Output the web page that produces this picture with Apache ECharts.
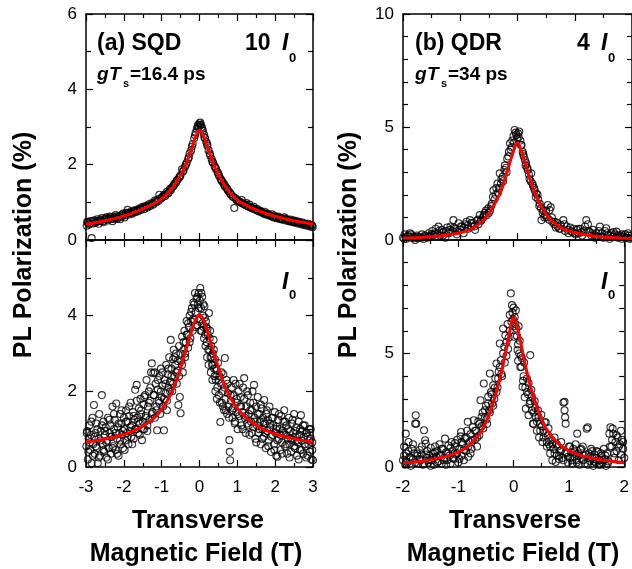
<!DOCTYPE html>
<html>
<head>
<meta charset="utf-8">
<script src="https://cdn.jsdelivr.net/npm/echarts@6/dist/echarts.min.js"></script>
<style>
html,body{margin:0;padding:0;background:#fff;}
#chart{width:632px;height:569px;}
</style>
</head>
<body>
<div id="chart"></div>
<script>
// (a) SQD, 10 I0  -- field (T), polarization (%)
var sqdHighScatter = [
[-2.98,0.38],[-2.95,0.46],[-2.92,0.41],[-2.88,0.5],[-2.85,0.05],[-2.82,0.44],[-2.78,0.52],[-2.74,0.47],[-2.7,0.55],[-2.66,0.43],
[-2.62,0.5],[-2.58,0.58],[-2.54,0.47],[-2.5,0.55],[-2.46,0.6],[-2.42,0.52],[-2.38,0.62],[-2.34,0.56],[-2.3,0.5],[-2.26,0.6],
[-2.22,0.66],[-2.18,0.56],[-2.14,0.62],[-2.1,0.55],[-2.06,0.67],[-2.02,0.7],[-1.98,0.6],[-1.94,0.72],[-1.9,0.8],[-1.86,0.68],
[-1.82,0.75],[-1.78,0.7],[-1.74,0.78],[-1.7,0.74],[-1.66,0.8],[-1.62,0.76],[-1.58,0.84],[-1.54,0.8],[-1.5,0.88],[-1.46,0.82],
[-1.42,0.9],[-1.38,0.86],[-1.34,0.95],[-1.3,0.9],[-1.26,0.98],[-1.22,0.94],[-1.18,1.05],[-1.14,1.0],[-1.1,1.08],[-1.06,1.2],
[-1.02,1.1],[-0.98,1.15],[-0.94,1.2],[-0.9,1.18],[-0.86,1.28],[-0.82,1.25],[-0.78,1.35],[-0.74,1.38],[-0.7,1.42],[-0.66,1.5],
[-0.62,1.52],[-0.58,1.6],[-0.54,1.65],[-0.5,1.72],[-0.46,1.88],[-0.42,1.85],[-0.38,1.95],[-0.34,2.05],[-0.3,2.15],[-0.26,2.3],
[-0.22,2.38],[-0.18,2.55],[-0.14,2.7],[-0.1,2.85],[-0.07,2.95],[-0.04,3.05],[-0.02,3.0],[0.0,3.1],[0.02,3.12],[0.04,3.05],
[0.06,3.0],[0.09,2.9],[0.12,2.8],[0.15,2.7],[0.18,2.6],[0.21,2.5],[0.24,2.38],[0.28,2.25],[0.32,2.15],[0.36,2.05],
[0.4,1.96],[0.44,1.88],[0.48,1.8],[0.52,1.7],[0.56,1.62],[0.6,1.55],[0.64,1.5],[0.68,1.42],[0.72,1.38],[0.76,1.3],
[0.8,1.26],[0.84,1.2],[0.88,1.15],[0.92,0.85],[0.96,1.1],[1.0,1.05],[1.04,1.02],[1.08,1.0],[1.12,1.06],[1.16,0.96],
[1.2,0.94],[1.24,0.98],[1.28,0.9],[1.32,0.94],[1.36,0.86],[1.4,0.85],[1.44,0.88],[1.48,0.8],[1.52,0.82],[1.56,0.76],
[1.6,0.78],[1.64,0.74],[1.68,0.72],[1.72,0.75],[1.76,0.68],[1.8,0.7],[1.84,0.66],[1.88,0.64],[1.92,0.68],[1.96,0.6],
[2.0,0.63],[2.04,0.58],[2.08,0.62],[2.12,0.56],[2.16,0.58],[2.2,0.54],[2.24,0.6],[2.28,0.52],[2.32,0.55],[2.36,0.5],
[2.4,0.54],[2.44,0.48],[2.48,0.52],[2.52,0.46],[2.56,0.5],[2.6,0.44],[2.64,0.48],[2.68,0.42],[2.72,0.46],[2.76,0.4],
[2.8,0.44],[2.84,0.38],[2.88,0.43],[2.92,0.36],[2.96,0.4],[2.99,0.34]
];
var sqdHighScatterRun2 = [
[-2.97,0.48],[-2.9,0.44],[-2.83,0.5],[-2.76,0.45],[-2.69,0.5],[-2.62,0.54],[-2.55,0.5],[-2.48,0.57],[-2.41,0.56],[-2.34,0.6],
[-2.27,0.56],[-2.2,0.62],[-2.13,0.6],[-2.04,0.64],[-1.96,0.66],[-1.88,0.72],[-1.8,0.72],[-1.72,0.77],[-1.64,0.78],[-1.56,0.82],
[-1.48,0.86],[-1.4,0.88],[-1.32,0.92],[-1.24,0.96],[-1.16,1.02],[-1.08,1.04],[-1.0,1.12],[-0.92,1.16],[-0.84,1.24],[-0.76,1.32],
[-0.68,1.45],[-0.6,1.58],[-0.52,1.68],[-0.44,1.82],[-0.36,2.0],[-0.28,2.2],[-0.2,2.48],[-0.12,2.78],[-0.05,3.0],[0.01,3.05],
[0.07,2.95],[0.13,2.72],[0.2,2.55],[0.27,2.3],[0.34,2.08],[0.42,1.92],[0.5,1.75],[0.58,1.58],[0.66,1.45],[0.74,1.34],
[0.82,1.22],[0.9,1.14],[0.98,1.06],[1.06,1.02],[1.14,0.97],[1.22,0.92],[1.3,0.88],[1.38,0.84],[1.46,0.82],[1.54,0.78],
[1.62,0.75],[1.7,0.7],[1.78,0.68],[1.86,0.65],[1.94,0.62],[2.02,0.6],[2.1,0.58],[2.18,0.55],[2.26,0.56],[2.34,0.52],
[2.42,0.5],[2.5,0.48],[2.58,0.47],[2.66,0.45],[2.74,0.43],[2.82,0.41],[2.9,0.4],[2.98,0.38]
];
var sqdHighFit = [
[-3.0,0.42],[-2.8,0.45],[-2.6,0.49],[-2.4,0.53],[-2.2,0.58],[-2.0,0.64],[-1.8,0.7],[-1.6,0.78],[-1.4,0.87],[-1.2,0.97],
[-1.0,1.09],[-0.8,1.28],[-0.6,1.55],[-0.4,1.92],[-0.2,2.45],[-0.1,2.75],[0,2.92],[0.1,2.78],[0.2,2.5],[0.4,1.95],
[0.6,1.55],[0.8,1.26],[1.0,1.06],[1.2,0.94],[1.4,0.84],[1.6,0.76],[1.8,0.69],[2.0,0.63],[2.2,0.58],[2.4,0.53],
[2.6,0.49],[2.8,0.46],[3.0,0.43]
];

// (a) SQD, I0
var sqdLowScatter = [
[-2.99,0.55],[-2.97,0.95],[-2.95,0.2],[-2.93,0.75],[-2.91,1.1],[-2.89,0.45],[-2.87,0.85],[-2.85,0.1],[-2.83,1.3],[-2.81,0.6],
[-2.79,1.64],[-2.77,0.35],[-2.75,0.9],[-2.73,1.15],[-2.71,0.5],[-2.69,0.1],[-2.67,0.75],[-2.65,1.4],[-2.63,0.3],[-2.61,0.95],
[-2.58,1.9],[-2.56,0.6],[-2.54,1.2],[-2.52,0.4],[-2.5,0.85],[-2.48,1.05],[-2.46,0.25],[-2.44,0.7],[-2.42,1.3],[-2.4,0.5],
[-2.38,0.9],[-2.36,1.1],[-2.34,0.35],[-2.32,0.8],[-2.3,1.6],[-2.28,0.55],[-2.26,1.0],[-2.24,1.25],[-2.22,0.45],[-2.2,1.68],
[-2.18,0.75],[-2.16,1.05],[-2.14,0.3],[-2.12,0.9],[-2.1,1.4],[-2.08,0.6],[-2.06,1.15],[-2.04,0.85],[-2.02,0.5],[-2.0,1.3],
[-1.98,1.0],[-1.96,0.7],[-1.94,1.5],[-1.92,0.9],[-1.9,1.2],[-1.88,0.6],[-1.86,1.35],[-1.84,0.95],[-1.82,1.7],[-1.8,0.8],
[-1.78,1.1],[-1.76,1.45],[-1.74,0.75],[-1.72,1.25],[-1.7,2.04],[-1.68,1.0],[-1.66,2.17],[-1.64,1.3],[-1.62,0.9],[-1.6,1.55],
[-1.58,1.15],[-1.56,1.8],[-1.54,1.4],[-1.52,0.71],[-1.5,1.2],[-1.48,1.65],[-1.46,1.0],[-1.44,1.9],[-1.42,1.35],[-1.4,2.3],
[-1.38,1.1],[-1.36,1.6],[-1.34,2.0],[-1.32,1.25],[-1.3,1.75],[-1.28,2.5],[-1.26,2.74],[-1.24,1.45],[-1.22,2.48],[-1.2,1.9],
[-1.18,1.3],[-1.16,2.2],[-1.14,1.6],[-1.12,0.97],[-1.1,2.05],[-1.08,1.75],[-1.06,2.4],[-1.04,1.4],[-1.02,2.6],[-1.0,1.85],
[-0.98,2.15],[-0.96,1.6],[-0.94,0.97],[-0.92,2.3],[-0.9,1.95],[-0.88,2.7],[-0.86,1.75],[-0.84,2.45],[-0.82,2.1],[-0.8,2.9],
[-0.78,2.25],[-0.76,3.36],[-0.74,2.6],[-0.72,2.0],[-0.7,2.85],[-0.68,3.1],[-0.66,2.4],[-0.64,2.7],[-0.62,3.0],[-0.6,2.2],
[-0.58,2.55],[-0.56,1.64],[-0.54,3.2],[-0.52,1.85],[-0.5,1.42],[-0.48,2.8],[-0.46,3.45],[-0.44,2.5],[-0.42,3.1],[-0.4,3.6],
[-0.38,2.9],[-0.36,3.3],[-0.34,3.86],[-0.32,3.5],[-0.3,3.15],[-0.28,3.7],[-0.26,4.0],[-0.24,3.4],[-0.22,3.85],[-0.2,4.2],
[-0.18,3.6],[-0.16,4.35],[-0.14,3.9],[-0.12,4.6],[-0.1,4.1],[-0.08,4.45],[-0.06,3.75],[-0.04,4.3],[-0.02,4.6],[0.0,3.9],
[0.02,4.73],[0.04,4.2],[0.06,3.6],[0.07,4.5],[0.09,4.0],[0.11,3.7],[0.13,4.25],[0.15,3.5],[0.17,3.85],[0.19,3.3],
[0.21,3.65],[0.23,3.1],[0.25,4.07],[0.27,3.4],[0.29,2.9],[0.31,3.2],[0.33,2.7],[0.35,3.0],[0.37,3.36],[0.39,2.6],
[0.41,2.85],[0.43,2.3],[0.45,2.55],[0.47,2.1],[0.49,2.75],[0.51,1.9],[0.53,2.4],[0.55,1.19],[0.57,2.2],[0.59,1.7],
[0.61,2.0],[0.63,2.45],[0.65,1.5],[0.67,2.88],[0.69,1.8],[0.71,2.3],[0.73,1.4],[0.75,1.95],[0.77,1.6],[0.79,0.71],
[0.8,0.4],[0.81,0.18],[0.83,1.75],[0.85,2.1],[0.87,1.3],[0.89,1.55],[0.91,1.9],[0.93,1.15],[0.95,2.2],[0.97,1.45],
[0.99,1.7],[1.01,1.0],[1.03,2.0],[1.05,1.35],[1.07,1.6],[1.09,1.85],[1.11,1.1],[1.13,1.45],[1.15,2.1],[1.18,2.35],
[1.2,1.3],[1.22,0.9],[1.24,1.6],[1.26,1.15],[1.28,1.9],[1.3,1.4],[1.32,0.85],[1.34,1.7],[1.36,1.2],[1.38,1.5],
[1.4,2.0],[1.42,1.05],[1.44,2.17],[1.46,1.3],[1.48,0.75],[1.5,1.6],[1.52,1.1],[1.54,1.85],[1.56,0.9],[1.58,1.4],
[1.6,1.2],[1.62,0.6],[1.64,1.55],[1.66,1.0],[1.68,1.3],[1.7,0.8],[1.71,1.77],[1.73,1.15],[1.75,0.5],[1.77,1.4],
[1.79,0.95],[1.81,1.25],[1.83,0.7],[1.85,1.6],[1.87,1.05],[1.89,0.4],[1.91,1.3],[1.93,0.85],[1.95,1.1],[1.97,0.6],
[1.99,1.45],[2.01,0.9],[2.03,0.3],[2.05,1.06],[2.06,0.27],[2.08,1.25],[2.1,0.75],[2.12,1.0],[2.14,0.45],[2.16,1.35],
[2.18,0.65],[2.2,0.95],[2.22,1.2],[2.24,1.5],[2.26,0.55],[2.28,0.85],[2.3,1.1],[2.32,0.35],[2.34,0.75],[2.36,1.3],
[2.38,0.6],[2.4,0.95],[2.42,0.4],[2.44,1.15],[2.46,0.7],[2.48,0.9],[2.5,1.4],[2.52,0.5],[2.54,0.8],[2.56,1.05],
[2.58,0.3],[2.6,0.65],[2.62,1.2],[2.64,0.85],[2.66,0.45],[2.68,1.37],[2.7,0.7],[2.72,0.95],[2.74,0.35],[2.76,0.8],
[2.78,1.1],[2.8,0.55],[2.82,0.25],[2.84,0.9],[2.86,0.8],[2.88,0.6],[2.9,1.0],[2.92,0.4],[2.94,0.75],[2.96,0.2],
[2.98,0.65],[3.0,0.18]
];
var sqdLowScatterRun2 = [
[-2.98,0.9],[-2.94,0.4],[-2.9,0.65],[-2.86,1.2],[-2.82,0.3],[-2.78,0.8],[-2.74,0.55],[-2.7,1.0],[-2.66,0.25],[-2.62,0.7],
[-2.58,1.1],[-2.54,0.45],[-2.5,0.95],[-2.46,0.65],[-2.42,0.2],[-2.38,1.25],[-2.34,0.8],[-2.3,0.5],[-2.26,1.4],[-2.22,0.9],
[-2.18,0.35],[-2.14,1.15],[-2.1,0.7],[-2.06,1.5],[-2.02,0.95],[-1.98,0.45],[-1.94,1.2],[-1.9,0.8],[-1.86,1.6],[-1.82,1.05],
[-1.78,0.6],[-1.74,1.35],[-1.7,1.0],[-1.66,1.75],[-1.62,1.2],[-1.58,0.85],[-1.54,1.5],[-1.5,1.0],[-1.46,1.85],[-1.42,1.3],
[-1.38,0.95],[-1.34,1.7],[-1.3,2.1],[-1.26,1.4],[-1.22,1.9],[-1.18,2.5],[-1.14,1.5],[-1.1,2.3],[-1.06,1.7],[-1.02,2.0],
[-0.98,2.5],[-0.94,1.8],[-0.9,2.2],[-0.86,1.5],[-0.82,2.6],[-0.78,2.0],[-0.74,2.4],[-0.7,2.2],[-0.66,2.9],[-0.62,2.5],
[-0.58,2.8],[-0.54,2.4],[-0.5,3.0],[-0.46,2.7],[-0.42,3.3],[-0.38,3.0],[-0.34,3.5],[-0.3,3.8],[-0.26,3.3],[-0.22,4.1],
[-0.18,3.9],[-0.14,4.3],[-0.1,3.7],[-0.06,4.5],[-0.02,4.2],[0.01,4.4],[0.03,3.6],[0.05,4.6],[0.08,3.8],[0.1,4.3],
[0.12,3.4],[0.14,3.95],[0.16,3.2],[0.18,3.7],[0.2,2.9],[0.22,3.5],[0.24,2.7],[0.26,3.1],[0.28,3.6],[0.3,2.5],
[0.32,2.9],[0.34,2.3],[0.36,2.7],[0.38,3.1],[0.4,2.4],[0.42,2.0],[0.44,2.6],[0.46,1.8],[0.5,2.3],[0.54,1.7],
[0.58,2.5],[0.62,1.6],[0.66,2.1],[0.7,1.5],[0.74,2.2],[0.78,1.3],[0.82,1.9],[0.86,1.5],[0.9,2.3],[0.94,1.2],
[0.98,1.8],[1.02,1.4],[1.06,2.2],[1.1,1.6],[1.14,1.0],[1.18,1.8],[1.22,1.35],[1.26,2.0],[1.3,1.1],[1.34,1.5],
[1.38,0.9],[1.42,1.7],[1.46,1.2],[1.5,0.65],[1.54,1.4],[1.58,1.0],[1.62,1.65],[1.66,0.75],[1.7,1.2],[1.74,0.9],
[1.78,1.5],[1.82,0.55],[1.86,1.15],[1.9,0.8],[1.94,1.3],[1.98,0.45],[2.02,1.0],[2.06,0.7],[2.1,1.4],[2.14,0.85],
[2.18,0.35],[2.22,0.9],[2.26,1.2],[2.3,0.6],[2.34,1.0],[2.38,0.25],[2.42,0.75],[2.46,1.25],[2.5,0.55],[2.54,0.95],
[2.58,0.7],[2.62,0.2],[2.66,1.0],[2.7,0.45],[2.74,1.1],[2.78,0.6],[2.82,0.9],[2.86,0.3],[2.9,0.7],[2.94,1.0],
[2.98,0.45]
];
var sqdLowFit = [
[-3.0,0.66],[-2.8,0.69],[-2.6,0.72],[-2.4,0.76],[-2.2,0.8],[-2.0,0.86],[-1.8,0.93],[-1.6,1.02],[-1.4,1.14],[-1.2,1.3],
[-1.0,1.52],[-0.8,1.84],[-0.6,2.3],[-0.4,2.95],[-0.2,3.62],[-0.1,3.9],[0,4.02],[0.1,3.9],[0.2,3.6],[0.4,2.95],
[0.6,2.32],[0.8,1.86],[1.0,1.55],[1.2,1.33],[1.4,1.17],[1.6,1.04],[1.8,0.95],[2.0,0.88],[2.2,0.82],[2.4,0.77],
[2.6,0.73],[2.8,0.69],[3.0,0.66]
];

// (b) QDR, 4 I0
var qdrHighScatter = [
[-2.0,0.1],[-1.97,0.25],[-1.94,0.05],[-1.91,0.2],[-1.88,0.3],[-1.85,0.1],[-1.82,0.15],[-1.79,0.0],[-1.76,0.2],[-1.73,0.08],
[-1.7,0.12],[-1.67,0.25],[-1.64,0.05],[-1.61,0.15],[-1.58,0.1],[-1.55,0.3],[-1.52,0.18],[-1.49,0.4],[-1.46,0.22],[-1.43,0.5],
[-1.4,0.3],[-1.38,0.59],[-1.35,0.2],[-1.32,0.45],[-1.29,0.35],[-1.26,0.1],[-1.23,0.55],[-1.2,0.3],[-1.17,0.6],[-1.14,0.4],
[-1.12,0.88],[-1.09,0.5],[-1.06,0.25],[-1.03,0.74],[-1.0,0.45],[-0.97,0.6],[-0.94,0.3],[-0.91,0.7],[-0.89,0.81],[-0.86,0.5],
[-0.83,0.88],[-0.8,0.6],[-0.77,0.75],[-0.74,0.45],[-0.71,0.85],[-0.68,0.7],[-0.66,1.1],[-0.63,0.9],[-0.6,1.0],[-0.57,1.2],
[-0.54,1.1],[-0.51,1.4],[-0.48,1.3],[-0.45,1.6],[-0.42,2.2],[-0.4,1.8],[-0.37,2.3],[-0.34,2.1],[-0.31,2.95],[-0.29,2.5],
[-0.26,2.8],[-0.23,3.1],[-0.2,3.2],[-0.18,3.6],[-0.15,3.9],[-0.13,4.28],[-0.1,4.1],[-0.07,4.6],[-0.05,4.87],[-0.03,4.75],
[-0.01,4.5],[0.01,4.72],[0.03,4.8],[0.05,4.4],[0.07,4.2],[0.09,3.9],[0.11,3.7],[0.13,3.54],[0.15,3.4],[0.18,3.1],
[0.21,2.7],[0.24,2.95],[0.27,2.4],[0.3,2.2],[0.33,2.06],[0.36,1.8],[0.39,1.6],[0.42,0.88],[0.45,1.3],[0.48,1.1],
[0.51,1.0],[0.53,1.55],[0.56,1.33],[0.58,1.45],[0.61,0.8],[0.64,0.7],[0.67,0.55],[0.7,0.75],[0.73,0.5],[0.76,0.65],
[0.8,0.88],[0.83,0.4],[0.86,0.6],[0.89,0.3],[0.92,0.55],[0.95,0.35],[0.98,0.5],[1.01,0.25],[1.04,0.45],[1.07,0.3],
[1.1,0.5],[1.13,0.2],[1.16,0.4],[1.2,0.88],[1.23,0.7],[1.26,0.35],[1.29,0.2],[1.32,0.45],[1.35,0.1],[1.38,0.3],
[1.41,0.15],[1.44,0.59],[1.47,0.3],[1.5,0.1],[1.53,0.4],[1.55,0.52],[1.58,0.2],[1.61,0.05],[1.64,0.3],[1.67,0.15],
[1.7,0.25],[1.73,0.37],[1.76,0.1],[1.79,0.2],[1.82,0.05],[1.85,0.15],[1.88,0.25],[1.91,0.1],[1.93,0.3],[1.96,0.05],
[1.99,0.2]
];
var qdrHighScatterRun2 = [
[-1.98,0.05],[-1.92,0.15],[-1.86,0.25],[-1.8,0.08],[-1.74,0.15],[-1.68,0.1],[-1.62,0.2],[-1.56,0.15],[-1.5,0.25],[-1.44,0.3],
[-1.37,0.4],[-1.3,0.2],[-1.24,0.4],[-1.18,0.45],[-1.11,0.55],[-1.05,0.4],[-0.99,0.6],[-0.93,0.55],[-0.87,0.65],[-0.81,0.75],
[-0.75,0.6],[-0.69,0.9],[-0.64,0.85],[-0.59,1.1],[-0.55,1.3],[-0.5,1.2],[-0.46,1.5],[-0.43,1.9],[-0.38,2.0],[-0.35,2.5],
[-0.32,2.3],[-0.28,2.7],[-0.25,2.6],[-0.22,3.3],[-0.19,3.0],[-0.16,3.7],[-0.12,4.0],[-0.09,4.4],[-0.06,4.3],[-0.02,4.65],
[0.02,4.55],[0.06,4.2],[0.1,3.8],[0.14,3.3],[0.17,3.2],[0.2,2.9],[0.23,2.6],[0.26,2.5],[0.29,2.3],[0.32,1.9],
[0.35,2.0],[0.38,1.5],[0.41,1.4],[0.44,1.2],[0.47,1.0],[0.5,1.3],[0.55,0.9],[0.6,1.0],[0.65,0.8],[0.7,0.6],
[0.75,0.5],[0.82,0.7],[0.88,0.45],[0.94,0.4],[1.0,0.3],[1.06,0.5],[1.12,0.35],[1.18,0.6],[1.24,0.4],[1.3,0.3],
[1.36,0.2],[1.42,0.4],[1.48,0.15],[1.56,0.3],[1.62,0.2],[1.68,0.35],[1.75,0.2],[1.82,0.25],[1.88,0.1],[1.94,0.2],
[1.98,0.1]
];
var qdrHighFit = [
[-2.0,0.08],[-1.8,0.1],[-1.6,0.13],[-1.4,0.17],[-1.2,0.23],[-1.0,0.32],[-0.8,0.5],[-0.6,0.86],[-0.5,1.18],[-0.4,1.6],
[-0.3,2.1],[-0.2,2.85],[-0.1,3.7],[0,4.3],[0.1,3.7],[0.2,2.85],[0.3,2.1],[0.4,1.55],[0.5,1.15],[0.6,0.84],
[0.8,0.49],[1.0,0.33],[1.2,0.22],[1.4,0.16],[1.6,0.12],[1.8,0.09],[2.0,0.07]
];

// (b) QDR, I0
var qdrLowScatter = [
[-2.0,0.3],[-1.98,0.9],[-1.96,0.1],[-1.95,1.47],[-1.94,0.6],[-1.92,0.2],[-1.9,1.1],[-1.88,0.45],[-1.86,0.05],[-1.84,0.8],
[-1.82,0.35],[-1.8,0.6],[-1.78,1.91],[-1.77,2.28],[-1.76,1.91],[-1.74,0.5],[-1.72,0.15],[-1.7,0.75],[-1.68,0.3],[-1.66,0.55],
[-1.64,0.1],[-1.62,1.62],[-1.6,1.18],[-1.59,1.03],[-1.58,0.4],[-1.56,0.7],[-1.54,0.2],[-1.52,0.5],[-1.5,0.85],[-1.48,0.3],
[-1.46,0.6],[-1.44,0.1],[-1.42,0.9],[-1.4,0.45],[-1.38,0.7],[-1.36,0.25],[-1.34,1.0],[-1.32,0.55],[-1.3,0.15],[-1.28,0.8],
[-1.26,0.4],[-1.24,1.25],[-1.22,0.65],[-1.2,0.3],[-1.18,0.95],[-1.16,0.5],[-1.14,0.15],[-1.12,1.1],[-1.1,0.7],[-1.08,0.35],
[-1.06,0.9],[-1.04,0.55],[-1.02,1.2],[-1.0,0.2],[-0.98,0.8],[-0.96,1.35],[-0.95,1.54],[-0.94,0.5],[-0.92,1.0],[-0.9,0.3],
[-0.88,1.25],[-0.86,0.7],[-0.84,1.6],[-0.83,1.99],[-0.82,0.45],[-0.8,1.1],[-0.78,1.45],[-0.76,0.8],[-0.74,1.75],[-0.72,2.06],
[-0.7,1.2],[-0.68,1.6],[-0.66,0.9],[-0.64,2.0],[-0.62,1.4],[-0.6,2.94],[-0.58,1.8],[-0.56,2.4],[-0.54,3.68],[-0.52,2.2],
[-0.5,2.7],[-0.48,1.9],[-0.46,3.1],[-0.44,2.5],[-0.43,4.12],[-0.41,3.3],[-0.39,2.8],[-0.37,3.6],[-0.35,3.0],[-0.33,3.9],
[-0.31,4.56],[-0.29,3.5],[-0.27,4.2],[-0.25,5.44],[-0.23,4.7],[-0.21,4.0],[-0.19,6.1],[-0.17,5.3],[-0.15,5.8],[-0.13,4.9],
[-0.11,6.3],[-0.09,5.7],[-0.07,6.7],[-0.05,7.65],[-0.03,7.13],[-0.01,6.5],[0.0,7.02],[0.01,5.74],[0.03,6.3],[0.04,6.9],
[0.06,5.77],[0.07,5.15],[0.08,4.68],[0.09,6.2],[0.11,5.56],[0.13,4.9],[0.14,4.41],[0.16,3.53],[0.17,3.8],[0.19,4.6],
[0.2,3.07],[0.22,2.57],[0.24,3.9],[0.26,3.2],[0.27,2.28],[0.29,2.78],[0.3,4.93],[0.32,3.4],[0.33,2.5],[0.35,1.9],
[0.36,1.91],[0.38,2.9],[0.4,2.2],[0.42,1.6],[0.44,2.5],[0.46,1.3],[0.48,1.9],[0.5,2.3],[0.52,1.1],[0.54,1.6],
[0.56,1.97],[0.58,1.97],[0.6,0.9],[0.62,1.4],[0.64,1.0],[0.66,0.6],[0.68,1.2],[0.7,0.29],[0.72,0.8],[0.74,1.3],
[0.76,0.22],[0.78,0.5],[0.8,0.9],[0.82,0.35],[0.84,0.7],[0.86,1.1],[0.88,0.4],[0.9,2.84],[0.92,2.5],[0.92,2.87],
[0.93,2.19],[0.94,1.91],[0.96,0.6],[0.98,0.2],[1.0,0.9],[1.02,0.4],[1.04,0.65],[1.06,0.15],[1.08,0.8],[1.1,0.45],
[1.12,1.0],[1.14,0.3],[1.15,1.47],[1.17,0.6],[1.19,0.1],[1.21,0.75],[1.23,0.35],[1.25,0.9],[1.27,0.5],[1.29,0.15],
[1.32,1.69],[1.34,1.75],[1.36,0.6],[1.38,0.25],[1.4,0.8],[1.42,0.4],[1.44,0.05],[1.46,0.55],[1.48,0.2],[1.5,0.7],
[1.53,0.66],[1.55,0.3],[1.57,0.1],[1.59,0.5],[1.61,0.2],[1.63,0.8],[1.65,0.35],[1.67,0.05],[1.69,0.6],[1.71,0.25],
[1.73,1.47],[1.75,1.75],[1.77,0.9],[1.79,1.69],[1.8,1.46],[1.82,0.4],[1.84,1.1],[1.86,0.7],[1.88,1.3],[1.9,0.3],
[1.92,1.0],[1.94,0.55],[1.96,1.2],[1.98,0.8],[2.0,0.4]
];
var qdrLowScatterRun2 = [
[-1.98,0.5],[-1.94,0.25],[-1.9,0.7],[-1.86,0.4],[-1.82,1.0],[-1.78,0.2],[-1.74,0.6],[-1.7,0.35],[-1.66,0.9],[-1.62,0.15],
[-1.58,0.55],[-1.54,0.3],[-1.5,0.05],[-1.46,0.4],[-1.42,0.65],[-1.38,0.2],[-1.34,0.5],[-1.3,0.8],[-1.26,0.3],[-1.22,0.1],
[-1.18,0.6],[-1.14,0.85],[-1.1,0.4],[-1.06,1.05],[-1.02,0.6],[-0.98,0.35],[-0.94,1.1],[-0.9,0.75],[-0.86,1.3],[-0.82,0.9],
[-0.78,0.6],[-0.74,1.2],[-0.7,1.6],[-0.66,1.3],[-0.62,1.9],[-0.58,2.2],[-0.55,1.7],[-0.52,2.5],[-0.49,2.1],[-0.46,2.8],
[-0.43,2.4],[-0.4,3.2],[-0.37,2.7],[-0.34,3.5],[-0.31,3.3],[-0.28,3.9],[-0.25,4.4],[-0.22,4.1],[-0.19,5.0],[-0.16,4.6],
[-0.13,5.5],[-0.1,5.2],[-0.07,6.0],[-0.04,6.4],[-0.02,6.8],[0.0,6.2],[0.02,6.6],[0.05,6.1],[0.08,5.4],[0.1,5.0],
[0.12,4.4],[0.15,4.8],[0.18,4.0],[0.21,3.5],[0.24,3.3],[0.27,3.7],[0.3,2.9],[0.33,3.1],[0.36,2.4],[0.39,2.6],
[0.42,2.0],[0.45,2.2],[0.48,1.6],[0.51,1.8],[0.54,1.3],[0.57,1.5],[0.6,1.1],[0.63,1.7],[0.66,0.9],[0.7,1.0],
[0.74,0.6],[0.78,1.0],[0.82,0.5],[0.86,0.75],[0.9,0.3],[0.94,0.65],[0.98,0.45],[1.02,0.9],[1.06,0.3],[1.1,0.65],
[1.14,0.2],[1.18,0.5],[1.22,0.8],[1.26,0.3],[1.3,0.55],[1.34,0.1],[1.38,0.45],[1.42,0.7],[1.46,0.25],[1.5,0.4],
[1.54,0.1],[1.58,0.6],[1.62,0.3],[1.66,0.5],[1.7,0.15],[1.74,0.9],[1.78,1.2],[1.82,0.6],[1.86,1.4],[1.9,0.9],
[1.94,1.6],[1.98,1.1]
];
var qdrLowFit = [
[-2.0,0.18],[-1.8,0.22],[-1.6,0.28],[-1.4,0.37],[-1.2,0.48],[-1.0,0.65],[-0.8,0.95],[-0.6,1.5],[-0.5,1.98],[-0.4,2.6],
[-0.3,3.4],[-0.2,4.4],[-0.1,5.6],[0,6.6],[0.1,5.8],[0.2,4.6],[0.3,3.6],[0.4,2.8],[0.5,2.15],[0.6,1.65],
[0.8,1.05],[1.0,0.72],[1.2,0.52],[1.4,0.4],[1.6,0.31],[1.8,0.24],[2.0,0.19]
];

var FONT = '"Liberation Sans", Arial, sans-serif';
var chart = echarts.init(document.getElementById('chart'));

// one grid per panel
var grids = [
	{left: 86, top: 14, width: 227, height: 226},
	{left: 86, top: 240, width: 227, height: 227},
	{left: 403, top: 14, width: 229, height: 226},
	{left: 403, top: 240, width: 229, height: 227}
];
// axis ranges per panel
var xRange = [[-3, 3], [-3, 3], [-2, 2], [-2, 2]];
var yRange = [[0, 6], [0, 6], [0, 10], [0, 10]];
var yStep = [2, 2, 5, 5];
var showX = [false, true, false, true];
var hideTopY = [false, true, false, true];

var line = {show: true, onZero: false, lineStyle: {color: '#000', width: 1.5}};
var tick = {show: true, inside: true, length: 7, lineStyle: {color: '#000', width: 1.2}};
var label = {color: '#000', fontFamily: FONT, fontSize: 17};

var xAxes = [], yAxes = [];
grids.forEach(function(g, i){
	['bottom', 'top'].forEach(function(pos){
		xAxes.push({
			type: 'value', gridIndex: i, position: pos,
			min: xRange[i][0], max: xRange[i][1], interval: 1,
			axisLine: line, axisTick: tick,
			minorTick: {show: true, splitNumber: 2, length: 4, lineStyle: {color: '#000', width: 1.2}},
			splitLine: {show: false}, minorSplitLine: {show: false},
			axisLabel: Object.assign({show: pos == 'bottom' && showX[i], margin: 12}, label)
		});
	});
	['left', 'right'].forEach(function(pos){
		var ymax = yRange[i][1];
		yAxes.push({
			type: 'value', gridIndex: i, position: pos,
			min: yRange[i][0], max: ymax, interval: yStep[i],
			axisLine: line, axisTick: tick,
			minorTick: {show: true, splitNumber: yStep[i], length: 5, lineStyle: {color: '#000', width: 1.2}},
			splitLine: {show: false}, minorSplitLine: {show: false},
			axisLabel: Object.assign({
				show: pos == 'left', margin: 9,
				formatter: function(v){ return (hideTopY[i] && v == ymax) ? '' : String(v); }
			}, label)
		});
	});
});

var scatterSets = [
	sqdHighScatter.concat(sqdHighScatterRun2),
	sqdLowScatter.concat(sqdLowScatterRun2),
	qdrHighScatter.concat(qdrHighScatterRun2),
	qdrLowScatter.concat(qdrLowScatterRun2)
];
var fitSets = [sqdHighFit, sqdLowFit, qdrHighFit, qdrLowFit];
var series = [];
scatterSets.forEach(function(d, i){
	series.push({
		type: 'scatter', xAxisIndex: i * 2, yAxisIndex: i * 2, data: d,
		symbol: 'circle', symbolSize: 7,
		itemStyle: {color: 'rgba(255,255,255,0)', borderColor: '#000', borderWidth: 1.1},
		silent: true, z: 2
	});
});
fitSets.forEach(function(d, i){
	series.push({
		type: 'line', xAxisIndex: i * 2, yAxisIndex: i * 2, data: d,
		showSymbol: false, smooth: 0.3,
		lineStyle: {color: '#ff0000', width: 3},
		silent: true, z: 3
	});
});

function txt(x, y, s, size, opt){
	opt = opt || {};
	return {
		type: 'text', x: x, y: y, rotation: opt.rot || 0, z: 10,
		style: {
			text: s, fill: '#000', fontFamily: FONT, fontSize: size,
			fontWeight: 'bold', fontStyle: opt.italic ? 'italic' : 'normal',
			align: opt.align || 'left', verticalAlign: 'middle'
		}
	};
}

var graphics = [
	// axis titles
	txt(24, 245, 'PL Polarization (%)', 25, {rot: Math.PI / 2, align: 'center'}),
	txt(349, 245, 'PL Polarization (%)', 25, {rot: Math.PI / 2, align: 'center'}),
	txt(198, 521, 'Transverse', 25, {align: 'center'}),
	txt(196, 554, 'Magnetic Field (T)', 25, {align: 'center'}),
	txt(515, 521, 'Transverse', 25, {align: 'center'}),
	txt(513, 554, 'Magnetic Field (T)', 25, {align: 'center'}),
	// panel (a) top
	txt(97, 44, '(a) SQD', 23),
	txt(245, 44, '10', 23),
	txt(282, 44, 'I', 23, {italic: true}),
	txt(289, 58, '0', 13),
	txt(97, 75, 'g', 19, {italic: true}),
	txt(109, 75, 'T', 19, {italic: true}),
	txt(123, 84, 's', 11),
	txt(130, 75, '=16.4 ps', 19),
	// panel (a) bottom
	txt(282, 283, 'I', 23, {italic: true}),
	txt(289, 295, '0', 13),
	// panel (b) top
	txt(415, 44, '(b) QDR', 23),
	txt(577, 44, '4', 23),
	txt(601, 44, 'I', 23, {italic: true}),
	txt(608, 58, '0', 13),
	txt(415, 75, 'g', 19, {italic: true}),
	txt(427, 75, 'T', 19, {italic: true}),
	txt(441, 84, 's', 11),
	txt(448, 75, '=34 ps', 19),
	// panel (b) bottom
	txt(601, 283, 'I', 23, {italic: true}),
	txt(608, 295, '0', 13)
];

chart.setOption({
	animation: false,
	backgroundColor: '#fff',
	grid: grids,
	xAxis: xAxes,
	yAxis: yAxes,
	series: series,
	graphic: graphics
});
</script>
</body>
</html>
